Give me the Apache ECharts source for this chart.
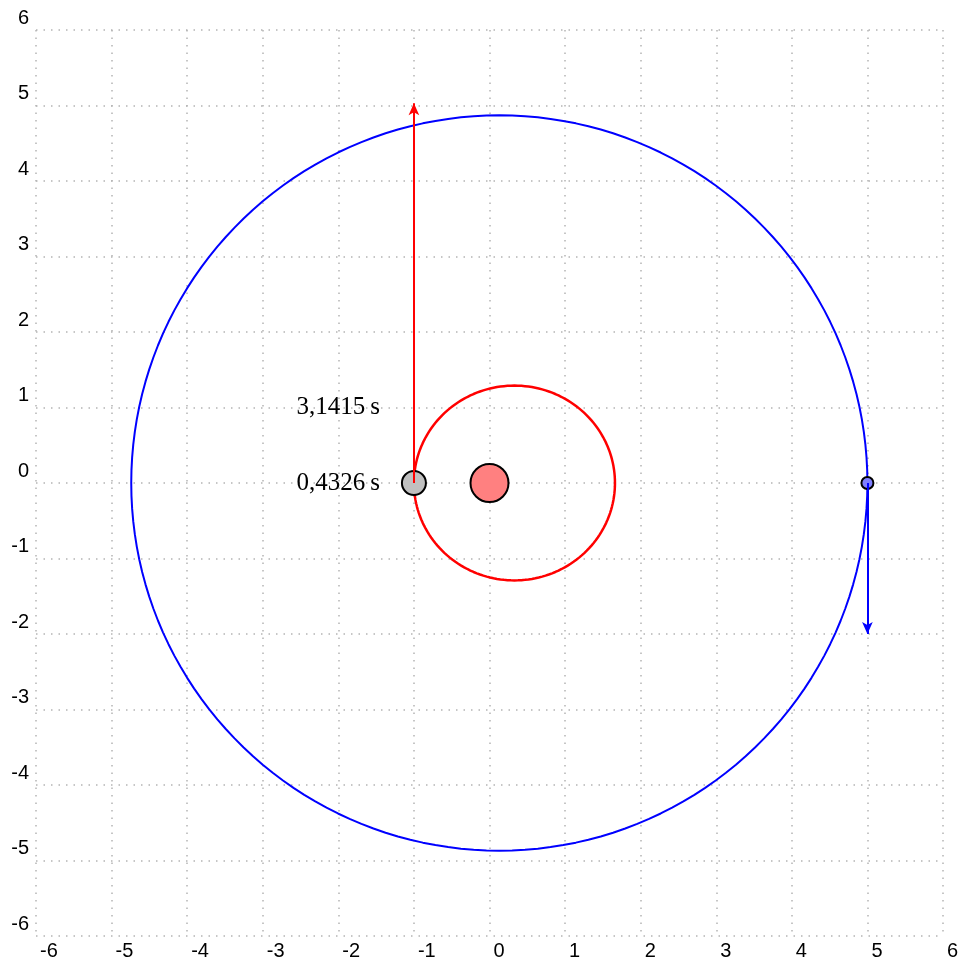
<!DOCTYPE html>
<html>
<head>
<meta charset="utf-8">
<script src="https://cdn.jsdelivr.net/npm/echarts@6/dist/echarts.min.js"></script>
<style>
  html, body { margin: 0; padding: 0; background: #fff; }
  #chart { width: 964px; height: 965px; }
</style>
</head>
<body>
<div id="chart"></div>
<script>
// axis ticks
const axisMin = -6
const axisMax = 6

// orbits (ellipses with a focus at the origin): centre x, semi-axes
const orbitNames = ['inner', 'outer']
const orbitCx = [0.33, 0.13]
const orbitA = [1.33, 4.87]
const orbitB = [1.29, 4.87]
const orbitColors = ['#ff0000', '#0000ff']

// bodies
const sunPos = [0, 0]
const innerBody = [-1.0, 0]
const outerBody = [5.0, 0]

// velocity arrows [start, end]
const innerArrow = [[-1.0, 0], [-1.0, 5.03]]
const outerArrow = [[5.0, 0], [5.0, -2.0]]

// time labels
const timeLabels = ['3,1415\u2009s', '0,4326\u2009s']
const timeLabelPos = [[-1.45, 1], [-1.45, 0]]

function orbitPoints(i) {
  const pts = []
  for (let k = 0; k <= 360; k += 2) {
    const t = k * Math.PI / 180
    pts.push([orbitCx[i] + orbitA[i] * Math.cos(t), orbitB[i] * Math.sin(t)])
  }
  return pts
}

const gridLine = {
  show: true,
  lineStyle: { color: '#b4b4b4', width: 1.5, type: [1.5, 6] }
}

const chart = echarts.init(document.getElementById('chart'))

const series = []
orbitNames.forEach((n, i) => {
  series.push({
    name: n,
    type: 'line',
    data: orbitPoints(i),
    showSymbol: false,
    smooth: false,
    lineStyle: { color: orbitColors[i], width: i === 0 ? 2.5 : 2 },
    z: 2
  })
})

series.push({
  name: 'sun',
  type: 'scatter',
  data: [sunPos],
  symbolSize: 38,
  itemStyle: { color: '#ff8080', borderColor: '#000', borderWidth: 2, opacity: 1 },
  z: 3
})
series.push({
  name: 'innerBody',
  type: 'scatter',
  data: [innerBody],
  symbolSize: 24,
  itemStyle: { color: '#c0c0c0', borderColor: '#000', borderWidth: 2, opacity: 1 },
  z: 3
})
series.push({
  name: 'outerBody',
  type: 'scatter',
  data: [outerBody],
  symbolSize: 12,
  itemStyle: { color: '#8080ff', borderColor: '#000', borderWidth: 2, opacity: 1 },
  z: 3
})

// arrows
;[[innerArrow, '#ff0000'], [outerArrow, '#0000ff']].forEach(([arr, col]) => {
  series.push({
    type: 'line',
    data: [],
    z: 4,
    markLine: {
      silent: true,
      animation: false,
      symbol: ['none', 'arrow'],
      symbolSize: [8, 12],
      label: { show: false },
      lineStyle: { color: col, width: 2, type: 'solid' },
      data: [[{ coord: arr[0] }, { coord: arr[1] }]]
    }
  })
})

series.push({
  name: 'labels',
  type: 'scatter',
  data: timeLabelPos.map((p, i) => ({ value: p, label: { formatter: timeLabels[i] } })),
  symbolSize: 0,
  itemStyle: { opacity: 1 },
  label: {
    show: true,
    position: 'left',
    distance: 0,
    color: '#000',
    fontFamily: 'Liberation Serif',
    fontSize: 25
  },
  z: 5
})

const option = {
  animation: false,
  grid: { left: 36, right: 21, top: 30, bottom: 29, outerBoundsMode: 'none' },
  xAxis: {
    type: 'value',
    min: axisMin,
    max: axisMax,
    interval: 1,
    axisLine: { show: false },
    axisTick: { show: false },
    splitLine: gridLine,
    axisLabel: {
      color: '#000',
      fontFamily: 'Liberation Sans',
      fontSize: 20,
      align: 'left',
      margin: 5,
      padding: [0, 0, 0, 4],
      showMinLabel: true,
      showMaxLabel: true
    }
  },
  yAxis: {
    type: 'value',
    min: axisMin,
    max: axisMax,
    interval: 1,
    axisLine: { show: false },
    axisTick: { show: false },
    splitLine: gridLine,
    axisLabel: {
      color: '#000',
      fontFamily: 'Liberation Sans',
      fontSize: 20,
      align: 'right',
      verticalAlign: 'bottom',
      margin: 7,
      padding: [0, 0, 2, 0],
      showMinLabel: true,
      showMaxLabel: true
    }
  },
  series: series
}

chart.setOption(option)
</script>
</body>
</html>
